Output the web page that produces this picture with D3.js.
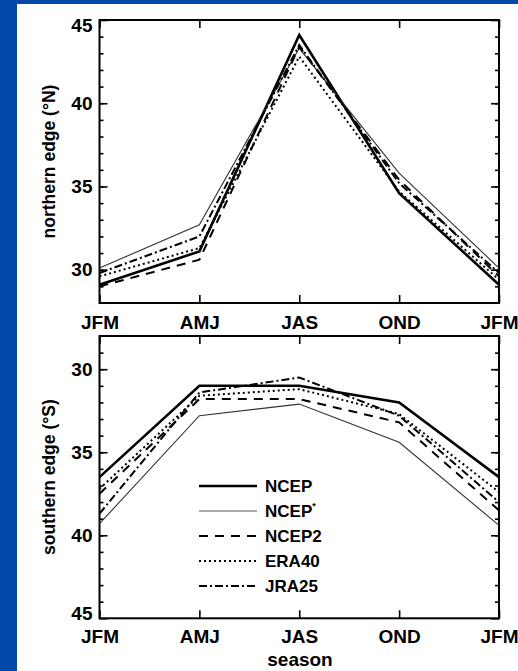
<!DOCTYPE html>
<html>
<head>
<meta charset="utf-8">
<script src="https://cdn.jsdelivr.net/npm/d3@7"></script>
<style>
  html, body { margin: 0; padding: 0; background: #0448aa; }
  svg { display: block; }
  text { font-family: "Liberation Sans", Arial, sans-serif; font-weight: bold; }
</style>
</head>
<body>
<svg id="chart" width="518" height="671"></svg>
<script>
// seasons along the x axis (the cycle closes on JFM again)
var seasons = ['JFM', 'AMJ', 'JAS', 'OND', 'JFM'];
var datasets = ['NCEP', 'NCEP*', 'NCEP2', 'ERA40', 'JRA25'];

// northern edge of the Hadley cell (°N)
var northNCEP = [29.1, 31.1, 44.1, 34.6, 29.1];
var northNCEPstar = [30.1, 32.7, 43.3, 35.8, 30.1];
var northNCEP2 = [29.0, 30.6, 43.4, 35.4, 29.6];
var northERA40 = [29.6, 31.3, 42.8, 34.7, 29.4];
var northJRA25 = [29.8, 32.0, 43.5, 35.2, 29.8];

// southern edge of the Hadley cell (°S)
var southNCEP = [36.5, 31.0, 31.0, 32.0, 36.5];
var southNCEPstar = [39.3, 32.8, 32.1, 34.4, 39.4];
var southNCEP2 = [37.5, 31.8, 31.8, 33.2, 38.5];
var southERA40 = [37.2, 31.6, 31.2, 32.7, 37.4];
var southJRA25 = [38.7, 31.4, 30.5, 32.8, 38.0];

var yMajor = [30, 35, 40, 45];
var yMinor = d3.range(29, 45);
var yDomain = [28, 45];

// line styles, same order as datasets
var styles = [
    {width: 2.6, dash: null, color: '#000'},
    {width: 1.1, dash: null, color: '#333'},
    {width: 2, dash: '9,7', color: '#000'},
    {width: 2, dash: '2,3', color: '#000'},
    {width: 2, dash: '8,3,2,3', color: '#000'}
];

var svg = d3.select('#chart');
svg.append('rect').attr('width', 518).attr('height', 671).attr('fill', '#0448aa');
svg.append('rect').attr('x', 17).attr('y', 4).attr('width', 501).attr('height', 667).attr('fill', '#fff');

var left = 99.5, right = 499;
var x = d3.scaleLinear().domain([0, seasons.length - 1]).range([left, right]);

function styleAxis(g) {
    g.select('.domain').remove();
    g.attr('font-family', null).attr('font-size', 19);
    g.selectAll('line').attr('stroke', '#000').attr('stroke-width', 1.6);
    g.selectAll('text').attr('fill', '#000');
}

function drawPanel(top, bottom, series, flip, title, labelPad) {
    var y = d3.scaleLinear().domain(yDomain).range(flip ? [top, bottom] : [bottom, top]);
    var g = svg.append('g');

    // left axis with labels, mirrored ticks on the right
    var yAxis = g.append('g').attr('transform', 'translate(' + left + ',0)')
        .call(d3.axisLeft(y).tickValues(yMajor).tickSize(-8).tickPadding(7)).call(styleAxis);
    // the label at the end of the range is nudged inside the frame
    yAxis.selectAll('.tick text')
        .filter(function (d) { return d === yDomain[1]; })
        .attr('y', flip ? -5 : 5);
    g.append('g').attr('transform', 'translate(' + left + ',0)')
        .call(d3.axisLeft(y).tickValues(yMinor).tickSize(-4).tickFormat('')).call(styleAxis);
    g.append('g').attr('transform', 'translate(' + right + ',0)')
        .call(d3.axisRight(y).tickValues(yMajor).tickSize(-8).tickFormat('')).call(styleAxis);
    g.append('g').attr('transform', 'translate(' + right + ',0)')
        .call(d3.axisRight(y).tickValues(yMinor).tickSize(-4).tickFormat('')).call(styleAxis);

    // season axis at the bottom, ticks only at the top
    g.append('g').attr('transform', 'translate(0,' + bottom + ')')
        .call(d3.axisBottom(x).tickValues(d3.range(seasons.length)).tickSize(-8).tickPadding(labelPad)
            .tickFormat(function (i) { return seasons[i]; })).call(styleAxis);
    g.append('g').attr('transform', 'translate(0,' + top + ')')
        .call(d3.axisTop(x).tickValues(d3.range(seasons.length)).tickSize(-8).tickFormat('')).call(styleAxis);

    g.append('rect')
        .attr('x', left).attr('y', top)
        .attr('width', right - left).attr('height', bottom - top)
        .attr('fill', 'none').attr('stroke', '#000').attr('stroke-width', 2);

    var line = d3.line()
        .x(function (d, i) { return x(i); })
        .y(function (d) { return y(d); });

    series.forEach(function (s, k) {
        g.append('path')
            .attr('d', line(s))
            .attr('fill', 'none')
            .attr('stroke', styles[k].color)
            .attr('stroke-width', styles[k].width)
            .attr('stroke-dasharray', styles[k].dash)
            .attr('stroke-linejoin', 'miter');
    });

    g.append('text')
        .attr('transform', 'translate(55,' + (top + bottom) / 2 + ') rotate(-90)')
        .attr('text-anchor', 'middle')
        .attr('font-size', 17.5)
        .text(title);
    return y;
}

drawPanel(20, 303, [northNCEP, northNCEPstar, northNCEP2, northERA40, northJRA25], false,
    'northern edge (°N)', 12.5);
drawPanel(336, 618.3, [southNCEP, southNCEPstar, southNCEP2, southERA40, southJRA25], true,
    'southern edge (°S)', 11);

svg.append('text')
    .attr('x', 300).attr('y', 666)
    .attr('text-anchor', 'middle')
    .attr('font-size', 19)
    .text('season');

// legend in the lower panel
var legend = svg.append('g').attr('transform', 'translate(199,486)');
datasets.forEach(function (name, k) {
    var row = legend.append('g').attr('transform', 'translate(0,' + k * 25 + ')');
    row.append('line')
        .attr('x1', 0).attr('x2', 58)
        .attr('stroke', styles[k].color === '#333' ? '#555' : '#000')
        .attr('stroke-width', styles[k].width)
        .attr('stroke-dasharray', styles[k].dash);
    var t = row.append('text')
        .attr('x', 66).attr('dy', '0.36em')
        .attr('font-size', 17);
    if (name.slice(-1) === '*') {
        t.append('tspan').text(name.slice(0, -1));
        t.append('tspan').attr('font-size', 9).attr('dy', '-0.9em').text('*');
    } else {
        t.text(name);
    }
});
</script>
</body>
</html>
